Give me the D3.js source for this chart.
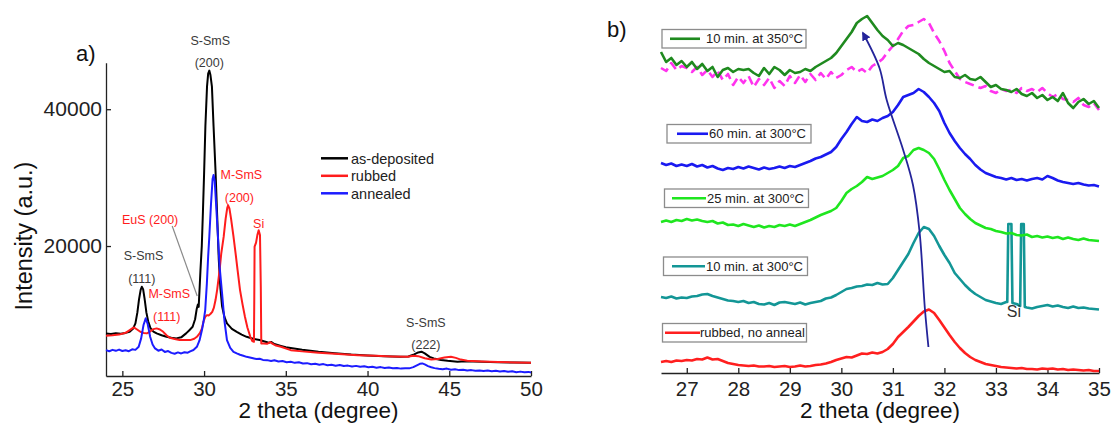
<!DOCTYPE html>
<html>
<head>
<meta charset="utf-8">
<script src="https://cdn.jsdelivr.net/npm/d3@7"></script>
<style>
  html, body { margin: 0; padding: 0; background: #fff; }
  svg { display: block; font-family: "Liberation Sans", Arial, sans-serif; }
</style>
</head>
<body>
<svg id="chart" width="1113" height="430"></svg>
<script>
// ===================== Panel a: full XRD scans (2θ = 24–50°) =====================
const asDeposited = [[24.0,7230],[24.3,7150],[24.6,7260],[24.9,7180],[25.2,7300],[25.45,7480],[25.65,7900],[25.8,8700],[25.92,10300],[26.02,12200],[26.12,13600],[26.19,14050],[26.27,13700],[26.36,12300],[26.47,10300],[26.58,9000],[26.72,8000],[26.9,7500],[27.1,7230],[27.4,6950],[27.7,6730],[28.0,6600],[28.3,6500],[28.6,6650],[28.9,7230],[29.1,7700],[29.3,8190],[29.45,9300],[29.55,10800],[29.62,11450],[29.67,11100],[29.72,13500],[29.78,16500],[29.86,20000],[29.93,25000],[30.0,30500],[30.08,37500],[30.18,43300],[30.25,45200],[30.32,45650],[30.39,45000],[30.48,43300],[30.58,37500],[30.7,31000],[30.8,24500],[30.9,18000],[31.0,13800],[31.1,11200],[31.25,9600],[31.4,8690],[31.7,7900],[32.0,7460],[32.3,7050],[32.6,6730],[33.0,6450],[33.4,6250],[33.7,6050],[33.95,5850],[34.1,5980],[34.3,5680],[34.7,5400],[35.0,5200],[35.5,5030],[36.0,4850],[37.0,4550],[38.0,4330],[39.0,4130],[40.0,4000],[41.0,3900],[42.0,3800],[42.5,3850],[42.85,4150],[43.1,4450],[43.3,4550],[43.5,4300],[43.8,3800],[44.05,3570],[44.5,3350],[44.9,3220],[45.2,3150],[45.5,3070],[46.0,3150],[47.0,3080],[48.0,3020],[49.0,2970],[50.0,2920]];

const rubbed = [[24.0,6880],[24.4,6950],[24.8,7050],[25.2,7315],[25.45,7700],[25.7,8100],[25.9,7800],[26.1,7460],[26.3,7300],[26.5,7230],[26.7,7500],[26.9,7850],[27.1,7960],[27.3,7800],[27.5,7460],[27.7,6950],[27.9,6580],[28.2,6400],[28.5,6250],[28.9,6250],[29.15,6250],[29.4,6450],[29.56,6730],[29.75,7300],[29.87,7960],[29.97,9000],[30.07,9655],[30.18,9900],[30.28,9850],[30.4,10100],[30.5,10390],[30.6,11000],[30.7,12100],[30.8,13600],[30.95,16490],[31.05,18900],[31.2,21360],[31.32,24000],[31.42,25600],[31.47,25950],[31.55,25500],[31.65,24000],[31.8,21360],[31.95,18500],[32.05,16490],[32.2,13560],[32.35,11500],[32.5,9655],[32.65,8100],[32.83,6730],[32.95,6100],[33.05,6000],[33.07,12000],[33.09,19900],[33.18,20500],[33.26,21600],[33.34,22300],[33.42,21600],[33.47,14000],[33.5,5760],[33.65,5760],[33.85,5700],[34.05,5950],[34.2,5700],[34.4,5450],[34.7,5270],[35.3,4780],[36.0,4600],[37.0,4400],[38.0,4250],[39.4,4050],[40.5,3950],[41.5,3850],[42.45,3800],[42.8,3950],[43.1,3900],[43.5,3600],[43.9,3420],[44.3,3500],[44.7,3700],[45.1,3800],[45.4,3650],[45.7,3400],[46.1,3220],[47.0,3120],[48.0,3050],[49.0,2990],[50.0,2930]];

const annealed = [[24.0,4780],[24.2,4620],[24.4,4820],[24.6,4680],[24.8,4860],[25.0,4650],[25.2,4760],[25.4,4630],[25.6,4900],[25.8,4820],[26.0,5270],[26.15,6500],[26.3,8500],[26.43,9420],[26.55,8600],[26.7,6730],[26.85,5600],[27.0,5030],[27.2,4700],[27.4,4880],[27.6,4520],[27.8,4650],[28.0,4380],[28.2,4260],[28.4,4450],[28.6,4300],[28.8,4480],[29.0,4400],[29.15,4600],[29.35,4800],[29.56,5270],[29.72,6200],[29.87,7710],[29.97,9000],[30.07,10640],[30.17,14500],[30.25,18500],[30.32,21360],[30.42,26000],[30.52,29800],[30.58,30390],[30.65,29500],[30.75,25500],[30.85,21360],[30.95,17000],[31.1,13080],[31.25,9000],[31.4,6250],[31.6,5100],[31.8,4535],[32.0,4300],[32.2,4100],[32.4,3950],[32.6,3800],[32.8,3700],[33.0,3600],[33.2,3480],[33.4,3520],[33.6,3350],[33.86,3320],[34.1,3200],[34.3,3300],[34.55,3120],[34.8,3180],[35.05,3020],[35.3,3070],[35.55,2920],[35.8,3000],[36.05,2820],[36.3,2880],[36.55,2720],[36.8,2800],[37.05,2650],[37.3,2740],[37.55,2580],[37.8,2650],[38.05,2500],[38.3,2600],[38.55,2450],[38.8,2520],[39.05,2380],[39.3,2480],[39.55,2360],[39.8,2420],[40.05,2280],[40.3,2350],[40.55,2220],[40.8,2300],[41.05,2160],[41.3,2250],[41.55,2120],[41.8,2180],[42.05,2080],[42.3,2150],[42.55,2120],[42.8,2300],[43.05,2600],[43.2,2780],[43.35,2840],[43.5,2700],[43.7,2450],[43.9,2280],[44.1,2150],[44.35,2060],[44.6,2000],[44.85,2080],[45.1,1920],[45.35,1980],[45.6,1860],[45.85,1920],[46.1,1800],[46.35,1860],[46.6,1760],[46.85,1820],[47.1,1720],[47.35,1790],[47.6,1700],[47.85,1760],[48.1,1660],[48.35,1730],[48.6,1620],[48.85,1680],[49.1,1560],[49.35,1640],[49.6,1540],[49.85,1600],[50.0,1520]];

const seriesNamesA = ["as-deposited", "rubbed", "annealed"];
const seriesColorsA = ["#000000", "#ff1c1c", "#1c1cff"];
const ticksAX = [25, 30, 35, 40, 45, 50];
const ticksAY = [20000, 40000];

// peak assignments: [text, 2θ, intensity, colour]
const peakLabelsA = [
  ["S-SmS", 30.38, 50100, "#3a3a3a"],
  ["(200)", 30.32, 46800, "#3a3a3a"],
  ["M-SmS", 32.28, 30380, "#ff1c1c"],
  ["(200)", 32.16, 27120, "#ff1c1c"],
  ["EuS (200)", 26.7, 23800, "#ff1c1c"],
  ["Si", 33.34, 23320, "#ff1c1c"],
  ["S-SmS", 26.29, 18540, "#3a3a3a"],
  ["(111)", 26.19, 15280, "#3a3a3a"],
  ["M-SmS", 27.87, 12990, "#ff1c1c"],
  ["(111)", 27.71, 9670, "#ff1c1c"],
  ["S-SmS", 43.57, 8790, "#3a3a3a"],
  ["(222)", 43.57, 5530, "#3a3a3a"]
];
// leader from the EuS label down to the shoulder at ~29.6°
const eusLeader = [[28.05, 22930], [29.58, 12700]];

// ===================== Panel b: zoom on the (200) region, curves offset =====================
const twoThetaB = d3.range(265, 351).map(d => d / 10); // 26.5 … 35.0, step 0.1

const rubbedNoAnneal = [
  11, 12, 11, 12.5, 12,
  13, 12.5, 14, 13.5, 15.5, 13.5, 14, 12, 10, 9,
  8, 7.5, 7, 7.5, 6.5, 6.5, 7, 6, 6.5, 7,
  6, 6.5, 7.5, 6.5, 7, 8, 8.5, 9.5, 11, 13,
  14.5, 16, 15.5, 17.5, 19.5, 19, 20.5, 19.5, 21, 24,
  29, 36, 41, 46, 51.5, 57, 61.5, 63.5, 60, 53,
  45.5, 38, 31, 25, 20, 16, 13, 11, 9, 8,
  7, 6, 5.5, 5, 4.5, 5, 4, 4, 3.5, 4.5,
  4, 4.5, 3.5, 4, 3, 3.5, 3, 2.5, 3, 2,
  2
];
const anneal300_10 = [
  76, 75, 76.5, 74.5, 75.5,
  75, 76.5, 77, 78.5, 79, 77, 75.5, 74, 72.5, 72,
  71, 72, 70, 71, 69, 68.5, 70, 68, 70.5, 71,
  70, 69, 70.5, 68.5, 70, 71, 72, 74.5, 75.5, 78,
  81, 84, 85, 86.5, 87, 88.5, 88, 90, 88.5, 89,
  95, 103, 111, 119, 130, 140, 146, 144, 137, 127,
  118, 110, 100, 94, 88, 83, 79, 76, 73, 71.5,
  70, 69, 71, 70, 69, 67, 65.5, 64.5, 66, 67,
  68, 66.5, 67.5, 66, 65, 66.5, 65, 65.5, 64.5, 64,
  63.5
];
// the two sharp Si substrate reflections in the 10 min / 300 °C scan
const siPeaks300_10 = [[33.22,71],[33.24,149],[33.30,149],[33.32,70],[33.47,67],[33.49,149],[33.54,149],[33.56,66]];
const anneal300_25 = [
  151, 152.5, 151, 153, 152,
  154, 152.5, 153.5, 152, 151, 152, 149.5, 150.5, 148, 148.5,
  147, 149, 147.5, 146, 147.5, 145.5, 147, 146, 148, 147,
  148.5, 147, 149, 151, 153, 155.5, 158, 160, 162, 165,
  172, 180, 184, 187, 191, 196, 194, 195.5, 197, 200,
  203, 207, 215, 217, 223, 225, 223, 220, 214, 204,
  193, 183, 174, 165, 159, 154, 150, 147.5, 145, 144,
  142, 141, 139.5, 140, 138, 137.5, 138.5, 136, 137, 135.5,
  136.5, 135, 136, 134, 135.5, 134, 133, 134.5, 133, 132.5,
  132
];
const anneal300_60 = [
  210, 208, 209.5, 207, 208.5,
  207, 209, 206.5, 208, 205.5, 207, 204.5, 203, 205, 204,
  206, 204.5, 206.5, 205, 203.5, 205.5, 204, 205, 206.5, 205,
  207, 206, 208, 210, 212, 214.5, 216, 218.5, 221, 226,
  234, 241, 249, 256, 252, 251, 253.5, 252, 255, 257,
  261, 268, 276, 278, 280, 284, 281, 276, 270, 262,
  250, 240, 232, 225, 219, 214, 208, 203.5, 200, 198,
  196, 195, 193.5, 195, 193, 194, 192.5, 194, 195, 193.5,
  197, 195, 192.5, 191, 190, 189, 190, 188.5, 187.5, 188,
  186.5
];
const anneal350_10 = [
  321, 311, 315, 308, 312,
  306, 311, 304, 309, 302, 306, 296, 303, 305, 301,
  304, 303, 304, 300, 297, 305, 299, 306, 303, 298,
  303, 300, 301, 304, 302, 306, 309, 312, 315, 320,
  327, 334, 341, 350, 354, 357, 350, 343, 337, 333,
  327, 330, 328, 325, 322, 319, 314, 310, 307, 304,
  301, 302, 296, 295, 298, 294, 293, 296, 291, 286,
  288, 284, 283, 281, 284, 279, 277, 280, 275, 278,
  273, 276, 272, 280, 270, 265, 271, 274, 269, 272,
  265
];
// rubbed scan replotted at the 350 °C offset for comparison (dashed)
const rubbedReference = [
  305, 302, 310, 303, 307,
  305, 301, 306, 298, 303, 296, 302, 293, 299, 288,
  296, 290, 297, 286, 294, 288, 295, 285, 292, 287,
  297, 290, 298, 291, 299, 293, 300, 294, 301, 295,
  298, 303, 306, 301, 304, 300, 307, 310, 314, 321,
  327, 334, 342, 347, 348, 351, 354, 350, 340, 332,
  322, 310, 302, 294, 291, 289, 287, 285, 287, 282,
  280, 284, 282, 283, 280, 285, 282, 284, 281, 285,
  280, 276, 279, 274, 273, 271, 275, 268, 266, 270,
  263
];
const legendLabelsB = ["10 min. at 350°C", "60 min. at 300°C", "25 min. at 300°C", "10 min. at 300°C", "rubbed, no anneal"];
const colorsB = {
  anneal350_10: "#1f8a1f",
  anneal300_60: "#1a1af0",
  anneal300_25: "#1fe61f",
  anneal300_10: "#139696",
  rubbed: "#ff1f1f",
  reference: "#ff33ee"
};
const ticksBX = [27, 28, 29, 30, 31, 32, 33, 34, 35];
// peak-shift guide (2θ, offset intensity), bottom to top
const shiftGuide = [[31.69, 26], [31.62, 65], [31.52, 140], [31.39, 188], [31.2, 223], [30.88, 273], [30.74, 305], [30.42, 340]];

// ===================== drawing =====================
const svg = d3.select("#chart");
const FONT = '"Liberation Sans", Arial, sans-serif';
const axisColor = "#222";

function styleAxis(g, size) {
  g.attr("font-size", size).attr("font-family", FONT).attr("color", axisColor);
  g.select(".domain").attr("stroke-width", 1.3);
  g.selectAll(".tick line").attr("stroke-width", 1.3);
}

// ---------- panel a ----------
const xA = d3.scaleLinear().domain([24, 50]).range([106, 531]);
const yA = d3.scaleLinear().domain([1000, 46800]).range([376, 62.7]);
const gA = svg.append("g");

gA.append("g").attr("transform", `translate(0,${yA.range()[0]})`)
  .call(d3.axisBottom(xA).tickValues(ticksAX).tickSizeInner(-5).tickSizeOuter(0).tickPadding(5))
  .call(g => styleAxis(g, 20.5));
gA.append("g").attr("transform", `translate(${xA.range()[0]},0)`)
  .call(d3.axisLeft(yA).tickValues(ticksAY).tickFormat(d3.format("d")).tickSizeInner(-5).tickSizeOuter(0).tickPadding(4))
  .call(g => styleAxis(g, 21));

const lineA = d3.line().x(d => xA(d[0])).y(d => yA(d[1]));
[asDeposited, rubbed, annealed].forEach((data, i) => {
  gA.append("path").datum(data).attr("d", lineA)
    .attr("fill", "none").attr("stroke", seriesColorsA[i])
    .attr("stroke-width", 2).attr("stroke-linejoin", "round");
});

gA.append("line")
  .attr("x1", xA(eusLeader[0][0])).attr("y1", yA(eusLeader[0][1]))
  .attr("x2", xA(eusLeader[1][0])).attr("y2", yA(eusLeader[1][1]))
  .attr("stroke", "#8a8a8a").attr("stroke-width", 1.2);

gA.selectAll("text.peak").data(peakLabelsA).join("text")
  .attr("class", "peak")
  .attr("x", d => xA(d[1])).attr("y", d => yA(d[2]))
  .attr("dy", "0.35em").attr("text-anchor", "middle")
  .attr("font-size", 12.5).attr("fill", d => d[3]).text(d => d[0]);

// legend
const legA = gA.append("g");
seriesNamesA.forEach((name, i) => {
  const y = 158.3 + i * 17.5;
  legA.append("line").attr("x1", 321).attr("x2", 348).attr("y1", y).attr("y2", y)
    .attr("stroke", seriesColorsA[i]).attr("stroke-width", 2.5);
  legA.append("text").attr("x", 351).attr("y", y).attr("dy", "0.36em")
    .attr("font-size", 14.5).attr("fill", "#222").text(name);
});

gA.append("text").attr("transform", "translate(32,236) rotate(-90)")
  .attr("text-anchor", "middle").attr("font-size", 23.5).attr("fill", "#111")
  .text("Intensity (a.u.)");
gA.append("text").attr("x", (xA.range()[0] + xA.range()[1]) / 2).attr("y", 418)
  .attr("text-anchor", "middle").attr("font-size", 22.5).attr("fill", "#111")
  .text("2 theta (degree)");
gA.append("text").attr("x", 76).attr("y", 61).attr("font-size", 22).attr("fill", "#111").text("a)");

// ---------- panel b ----------
const xB = d3.scaleLinear().domain([26.5, 35]).range([661, 1099]);
const yB = d3.scaleLinear().domain([0, 360]).range([373, 13]);
const gB = svg.append("g");

gB.append("g").attr("transform", `translate(0,${yB.range()[0]})`)
  .call(d3.axisBottom(xB).tickValues(ticksBX).tickSizeInner(-5).tickSizeOuter(0).tickPadding(8))
  .call(g => styleAxis(g, 20.5));

const zip = vals => twoThetaB.map((t, i) => [t, vals[i]]).filter(d => d[1] != null);
const tealData = zip(anneal300_10)
  .filter(d => !((d[0] >= 33.22 && d[0] <= 33.32) || (d[0] >= 33.47 && d[0] <= 33.56)))
  .concat(siPeaks300_10)
  .sort((a, b) => a[0] - b[0]);

const lineB = d3.line().x(d => xB(d[0])).y(d => yB(d[1]));
const curvesB = [
  { data: zip(rubbedNoAnneal), color: colorsB.rubbed },
  { data: tealData, color: colorsB.anneal300_10 },
  { data: zip(anneal300_25), color: colorsB.anneal300_25 },
  { data: zip(anneal300_60), color: colorsB.anneal300_60 },
  { data: zip(rubbedReference), color: colorsB.reference, dash: "9,5" },
  { data: zip(anneal350_10), color: colorsB.anneal350_10 }
];
curvesB.forEach(c => {
  gB.append("path").datum(c.data).attr("d", lineB)
    .attr("fill", "none").attr("stroke", c.color).attr("stroke-width", 2.6)
    .attr("stroke-linejoin", "round")
    .attr("stroke-dasharray", c.dash || null);
});

gB.append("text").attr("x", xB(33.35)).attr("y", yB(62)).attr("dy", "0.35em")
  .attr("text-anchor", "middle").attr("font-size", 16).attr("fill", "#333").text("Si");

// peak-shift arrow
const arrowColor = "#24249a";
svg.append("defs").append("marker")
  .attr("id", "shiftHead").attr("viewBox", "0 0 10 10")
  .attr("refX", 8).attr("refY", 5).attr("markerWidth", 5).attr("markerHeight", 5)
  .attr("orient", "auto")
  .append("path").attr("d", "M0,0L10,5L0,10z").attr("fill", arrowColor);
gB.append("path").datum(shiftGuide)
  .attr("d", d3.line().x(d => xB(d[0])).y(d => yB(d[1])).curve(d3.curveCatmullRom))
  .attr("fill", "none").attr("stroke", arrowColor).attr("stroke-width", 1.8)
  .attr("marker-end", "url(#shiftHead)");

// boxed legends, one per curve
const legendColorsB = [colorsB.anneal350_10, colorsB.anneal300_60, colorsB.anneal300_25, colorsB.anneal300_10, colorsB.rubbed];
const legendBoxes = [
  { x: 662, y: 29.5, line: [670, 700], tx: 706 },
  { x: 667, y: 124.5, line: [677, 708], tx: 709 },
  { x: 664.5, y: 189, line: [672, 706], tx: 707 },
  { x: 663.5, y: 257, line: [672, 705], tx: 706 },
  { x: 662.5, y: 323.5, line: [665, 700], tx: 700 }
];
legendLabelsB.forEach((label, i) => {
  const b = legendBoxes[i];
  const h = 18.5, w = 144;
  const g = gB.append("g");
  g.append("rect").attr("x", b.x).attr("y", b.y).attr("width", w).attr("height", h)
    .attr("fill", "#fff").attr("stroke", "#8c8c8c").attr("stroke-width", 1.3);
  g.append("line").attr("x1", b.line[0]).attr("x2", b.line[1])
    .attr("y1", b.y + h / 2).attr("y2", b.y + h / 2)
    .attr("stroke", legendColorsB[i]).attr("stroke-width", 2.6);
  g.append("text").attr("x", b.tx).attr("y", b.y + h / 2).attr("dy", "0.36em")
    .attr("font-size", 13).attr("fill", "#222").text(label);
});

gB.append("text").attr("x", (xB.range()[0] + xB.range()[1]) / 2).attr("y", 418)
  .attr("text-anchor", "middle").attr("font-size", 22.5).attr("fill", "#111")
  .text("2 theta (degree)");
gB.append("text").attr("x", 607).attr("y", 37).attr("font-size", 22).attr("fill", "#111").text("b)");
</script>
</body>
</html>
